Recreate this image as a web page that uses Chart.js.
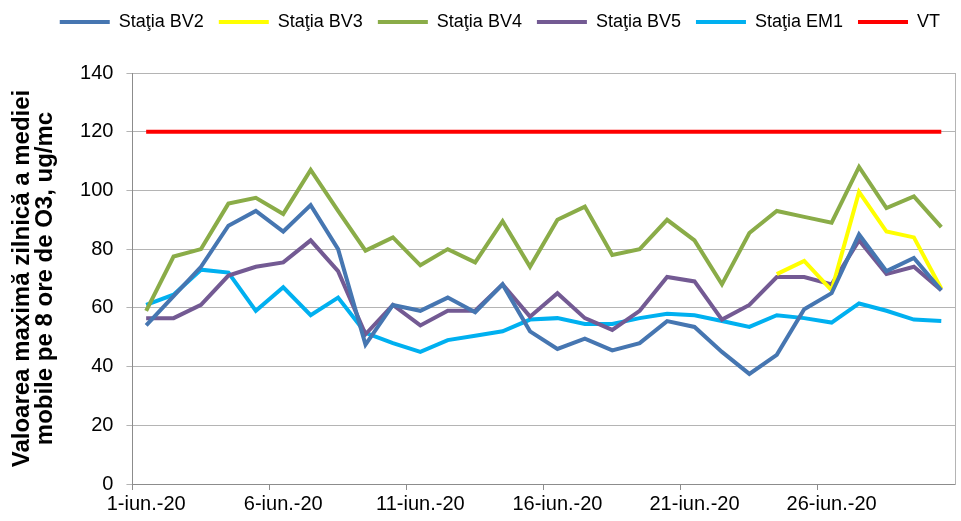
<!DOCTYPE html>
<html>
<head>
<meta charset="utf-8">
<script src="https://cdn.jsdelivr.net/npm/chart.js@4/dist/chart.umd.min.js"></script>
<style>
  html, body { margin: 0; padding: 0; background: #fff; }
  #wrap { width: 961px; height: 521px; }
</style>
</head>
<body>
<div id="wrap"><canvas id="o3chart"></canvas></div>
<script>
// zilele lunii iunie 2020
const days = [];
for (let d = 1; d <= 30; d++) days.push(d + '-iun.-20');

const bv2 = [54, 64, 74, 88, 93, 86, 95, 80, 47.5, 61, 59, 63.5, 58.5, 68, 52, 46, 49.5, 45.5, 48, 55.5, 53.5, 45, 37.5, 44, 59.5, 65, 85, 72.5, 77, 66];
const bv3 = [null, null, null, null, null, null, null, null, null, null, null, null, null, null, null, null, null, null, null, null, null, null, null, 71.5, 76, 66, 99.5, 86, 84, 66.5];
const bv4 = [59, 77.5, 80, 95.5, 97.5, 92, 107, 93, 79.5, 84, 74.5, 80, 75.5, 89.5, 74, 90, 94.5, 78, 80, 90, 83, 68, 85.5, 93, 91, 89, 108, 94, 98, 87.5];
const bv5 = [56.5, 56.5, 61, 71, 74, 75.5, 83, 72.5, 51, 61, 54, 59, 59, 68, 57, 65, 56.5, 52.5, 59, 70.5, 69, 56, 61, 70.5, 70.5, 68, 83, 71.5, 74, 66];
const em1 = [61, 64.5, 73, 72, 59, 67, 57.5, 63.5, 51.5, 48, 45, 49, 50.5, 52, 56, 56.5, 54.5, 54.5, 56.5, 58, 57.5, 55.5, 53.5, 57.5, 56.5, 55, 61.5, 59, 56, 55.5];
const vt = days.map(() => 120);

const yTicks = [0, 20, 40, 60, 80, 100, 120, 140];

function serie(label, data, color) {
    return {
        label: label,
        data: data,
        borderColor: color,
        backgroundColor: color,
        borderWidth: 4,
        pointRadius: 0,
        pointHoverRadius: 0,
        pointStyle: 'line',
        tension: 0,
        spanGaps: false
    };
}

// spatiu suplimentar sub legenda
const legendSpace = {
    id: 'legendSpace',
    beforeInit(chart) {
        const fit = chart.legend.fit;
        chart.legend.fit = function() {
            fit.bind(chart.legend)();
            this.height += 32;
        };
    }
};

const ctx = document.getElementById('o3chart').getContext('2d');
const chart = new Chart(ctx, {
    type: 'line',
    data: {
        labels: days,
        datasets: [
            serie('Staţia BV2', bv2, '#4676b1'),
            serie('Staţia BV3', bv3, '#ffff00'),
            serie('Staţia BV4', bv4, '#8aac48'),
            serie('Staţia BV5', bv5, '#735a93'),
            serie('Staţia EM1', em1, '#00b0f0'),
            serie('VT', vt, '#ff0000')
        ]
    },
    plugins: [legendSpace],
    options: {
        responsive: true,
        maintainAspectRatio: false,
        animation: false,
        layout: { padding: { left: 11, right: 6, top: -2, bottom: 3 } },
        plugins: {
            legend: {
                position: 'top',
                align: 'end',
                labels: {
                    usePointStyle: true,
                    pointStyleWidth: 50,
                    padding: 15,
                    color: '#000',
                    font: { family: 'Liberation Sans', size: 18 }
                }
            },
            tooltip: { enabled: false }
        },
        scales: {
            x: {
                offset: true,
                grid: {
                    offset: true,
                    drawOnChartArea: false,
                    drawTicks: true,
                    tickLength: 6,
                    color: function(c) { return c.index % 5 === 0 ? '#8c8c8c' : 'rgba(0,0,0,0)'; }
                },
                border: { display: true, color: '#8c8c8c', width: 1 },
                ticks: {
                    autoSkip: false,
                    maxRotation: 0,
                    color: '#000',
                    padding: 2,
                    font: { family: 'Liberation Sans', size: 20 },
                    callback: function(value, index) { return index % 5 === 0 ? days[index] : ''; }
                }
            },
            y: {
                min: 0,
                max: 140,
                afterBuildTicks: function(axis) { axis.ticks = yTicks.map(v => ({ value: v })); },
                grid: { color: '#b4b4b4', tickLength: 6, lineWidth: 1 },
                border: { display: true, color: '#8c8c8c' },
                ticks: {
                    color: '#000',
                    padding: 13,
                    font: { family: 'Liberation Sans', size: 20 }
                },
                title: {
                    display: true,
                    text: ['Valoarea maximă zilnică a mediei', 'mobile pe 8 ore de O3, ug/mc'],
                    color: '#000',
                    padding: { top: 0, bottom: 10 },
                    font: { family: 'Liberation Sans', size: 24, weight: 'bold', lineHeight: 0.96 }
                }
            },
            yRight: {
                position: 'right',
                min: 0,
                max: 140,
                grid: { drawOnChartArea: false, drawTicks: false },
                border: { display: true, color: '#b4b4b4' },
                ticks: { display: false }
            }
        }
    }
});
</script>
</body>
</html>
